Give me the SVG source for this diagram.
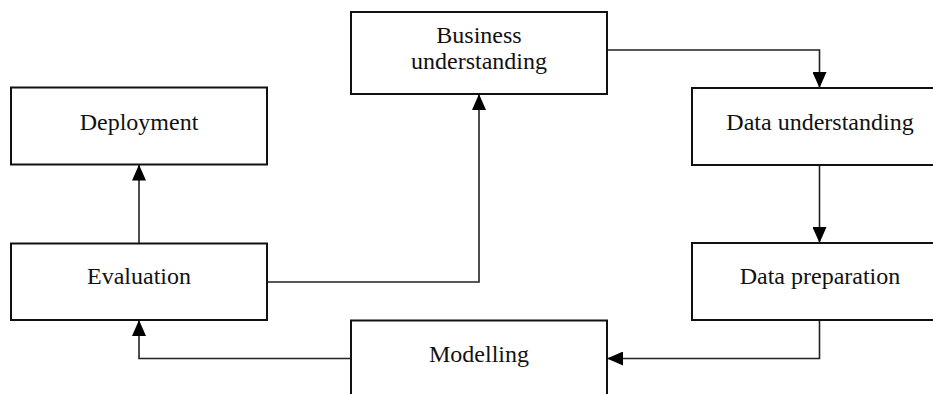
<svg xmlns="http://www.w3.org/2000/svg" width="933" height="394" viewBox="0 0 933 394">
  <defs>
    <marker id="arrow" markerUnits="userSpaceOnUse" markerWidth="16" markerHeight="14" refX="16" refY="7" orient="auto" viewBox="0 0 16 14">
      <path d="M0,0 L16,7 L0,14 z" fill="#000"/>
    </marker>
    <style>
      .box { fill: #fff; stroke: #111; stroke-width: 2; }
      .lbl { font-family: "Liberation Serif", "Times New Roman", serif; font-size: 24px; fill: #111; text-anchor: middle; }
      .conn { fill: none; stroke: #222; stroke-width: 1.6; }
    </style>
  </defs>
  <rect width="933" height="394" fill="#fff"/>

  <g id="connectors">
    <path class="conn" d="M607,50 H819.5 V88" marker-end="url(#arrow)"/>
    <path class="conn" d="M819.5,165 V243" marker-end="url(#arrow)"/>
    <path class="conn" d="M819.5,320 V358.5 H607" marker-end="url(#arrow)"/>
    <path class="conn" d="M351,358.5 H139 V320" marker-end="url(#arrow)"/>
    <path class="conn" d="M139,243.5 V164.5" marker-end="url(#arrow)"/>
    <path class="conn" d="M267,282 H479 V94" marker-end="url(#arrow)"/>
  </g>

  <g id="business-understanding">
    <rect class="box" x="351" y="12" width="256" height="82"/>
    <text class="lbl" x="479" y="43">Business</text>
    <text class="lbl" x="479" y="69">understanding</text>
  </g>
  <g id="deployment">
    <rect class="box" x="11" y="87.5" width="256" height="77"/>
    <text class="lbl" x="139" y="130">Deployment</text>
  </g>
  <g id="data-understanding">
    <rect class="box" x="692" y="88" width="256" height="77"/>
    <text class="lbl" x="820" y="130">Data understanding</text>
  </g>
  <g id="evaluation">
    <rect class="box" x="11" y="243.5" width="256" height="76.5"/>
    <text class="lbl" x="139" y="284">Evaluation</text>
  </g>
  <g id="data-preparation">
    <rect class="box" x="692" y="243" width="256" height="77"/>
    <text class="lbl" x="820" y="284">Data preparation</text>
  </g>
  <g id="modelling">
    <rect class="box" x="351" y="320.5" width="256" height="90"/>
    <text class="lbl" x="479" y="362">Modelling</text>
  </g>
</svg>
